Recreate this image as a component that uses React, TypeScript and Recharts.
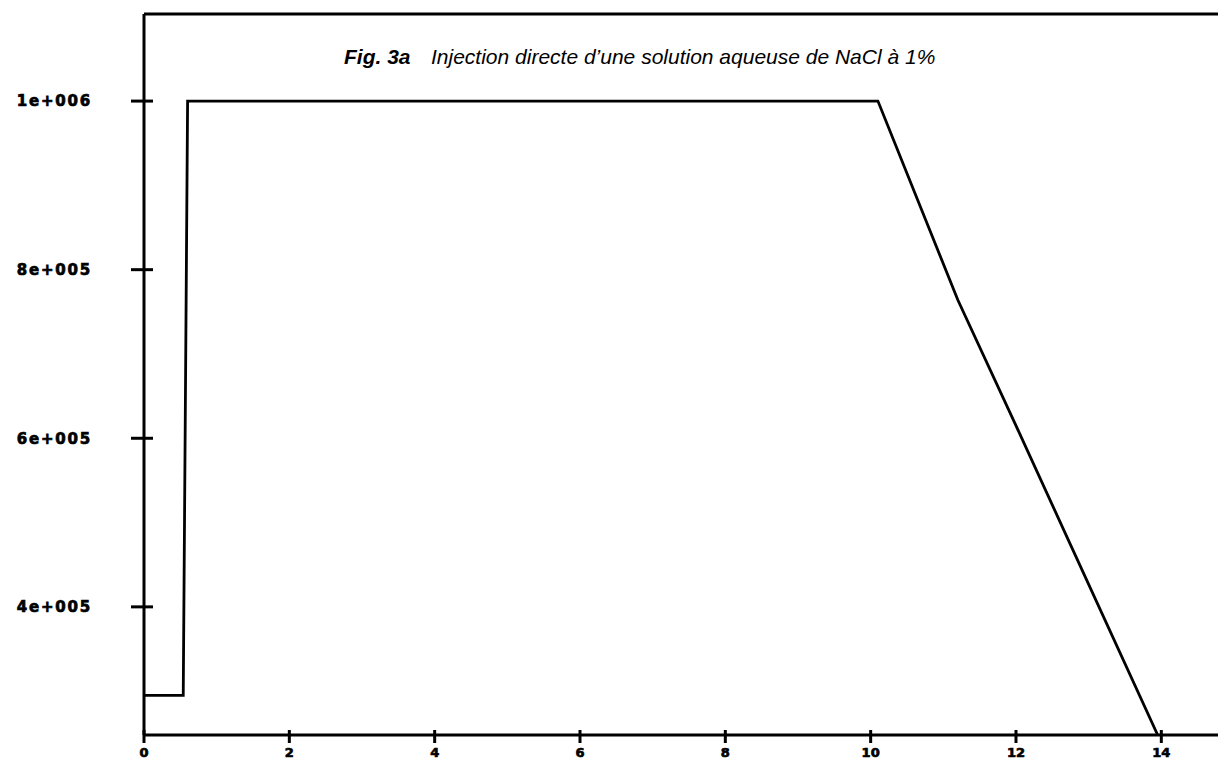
import { LineChart, Line, XAxis, YAxis, ReferenceLine } from "recharts";

// values
const xValues = [0, 0.54, 0.6, 10.1, 11.2, 12.0, 12.77, 13.95];
const yValues = [295000, 295000, 1000000, 1000000, 764000, 615000, 470000, 248000];

const xTicks = [0, 2, 4, 6, 8, 10, 12, 14];
const yTicks = [400000, 600000, 800000, 1000000];
const yTickLabels = ["4e+005", "6e+005", "8e+005", "1e+006"];

const X_MAX = 14.78;
const Y_MIN = 248000;
const Y_MAX = 1103300;

const data = xValues.map((x, i) => ({ x, y: yValues[i] }));

const tickFont = {
  fontFamily: "DejaVu Sans",
  fontWeight: 700,
  fill: "#000",
  stroke: "#000",
  strokeWidth: 0.7,
};

function YTick(props: any) {
  const { x, y, payload } = props;
  const idx = yTicks.indexOf(payload.value);
  return (
    <g>
      <line x1={x - 13} x2={x + 9} y1={y} y2={y} stroke="#000" strokeWidth={3} />
      <text x={x - 52} y={y} dy="0.36em" textAnchor="end" fontSize={15} letterSpacing={1.8} {...tickFont}>
        {idx >= 0 ? yTickLabels[idx] : payload.value}
      </text>
    </g>
  );
}

function XTick(props: any) {
  const { x, y, payload } = props;
  return (
    <g>
      <line x1={x} x2={x} y1={y - 5} y2={y + 8} stroke="#000" strokeWidth={3} />
      <text x={x} y={y + 22} textAnchor="middle" fontSize={13} {...tickFont}>
        {payload.value}
      </text>
    </g>
  );
}

export default function App() {
  return (
    <div style={{ position: "absolute", left: 0, top: 0, width: 1218, height: 761, background: "#fff", overflow: "hidden" }}>
      <LineChart width={1218} height={761} data={data} margin={{ top: 14, right: 0, left: 0, bottom: 0 }}>
        <XAxis
          dataKey="x"
          type="number"
          domain={[0, X_MAX]}
          ticks={xTicks}
          allowDataOverflow
          height={26}
          tickLine={false}
          tickSize={0}
          tickMargin={0}
          axisLine={{ stroke: "#000", strokeWidth: 3 }}
          tick={<XTick />}
        />
        <YAxis
          dataKey="y"
          type="number"
          domain={[Y_MIN, Y_MAX]}
          ticks={yTicks}
          allowDataOverflow
          width={144}
          tickLine={false}
          tickSize={0}
          tickMargin={0}
          axisLine={{ stroke: "#000", strokeWidth: 3 }}
          tick={<YTick />}
        />
        <ReferenceLine y={Y_MAX} stroke="#000" strokeWidth={3} />
        <Line
          type="linear"
          dataKey="y"
          stroke="#000"
          strokeWidth={2.8}
          dot={false}
          isAnimationActive={false}
        />
      </LineChart>
      <svg width={1218} height={761} style={{ position: "absolute", left: 0, top: 0, pointerEvents: "none" }}>
        <text x={344} y={64} fontFamily="Liberation Sans" fontSize={21} fontStyle="italic" fontWeight={700} fill="#000">
          Fig. 3a
        </text>
        <text x={431} y={64} fontFamily="Liberation Sans" fontSize={21} fontStyle="italic" fill="#000">
          Injection directe d’une solution aqueuse de NaCl à 1%
        </text>
      </svg>
    </div>
  );
}
